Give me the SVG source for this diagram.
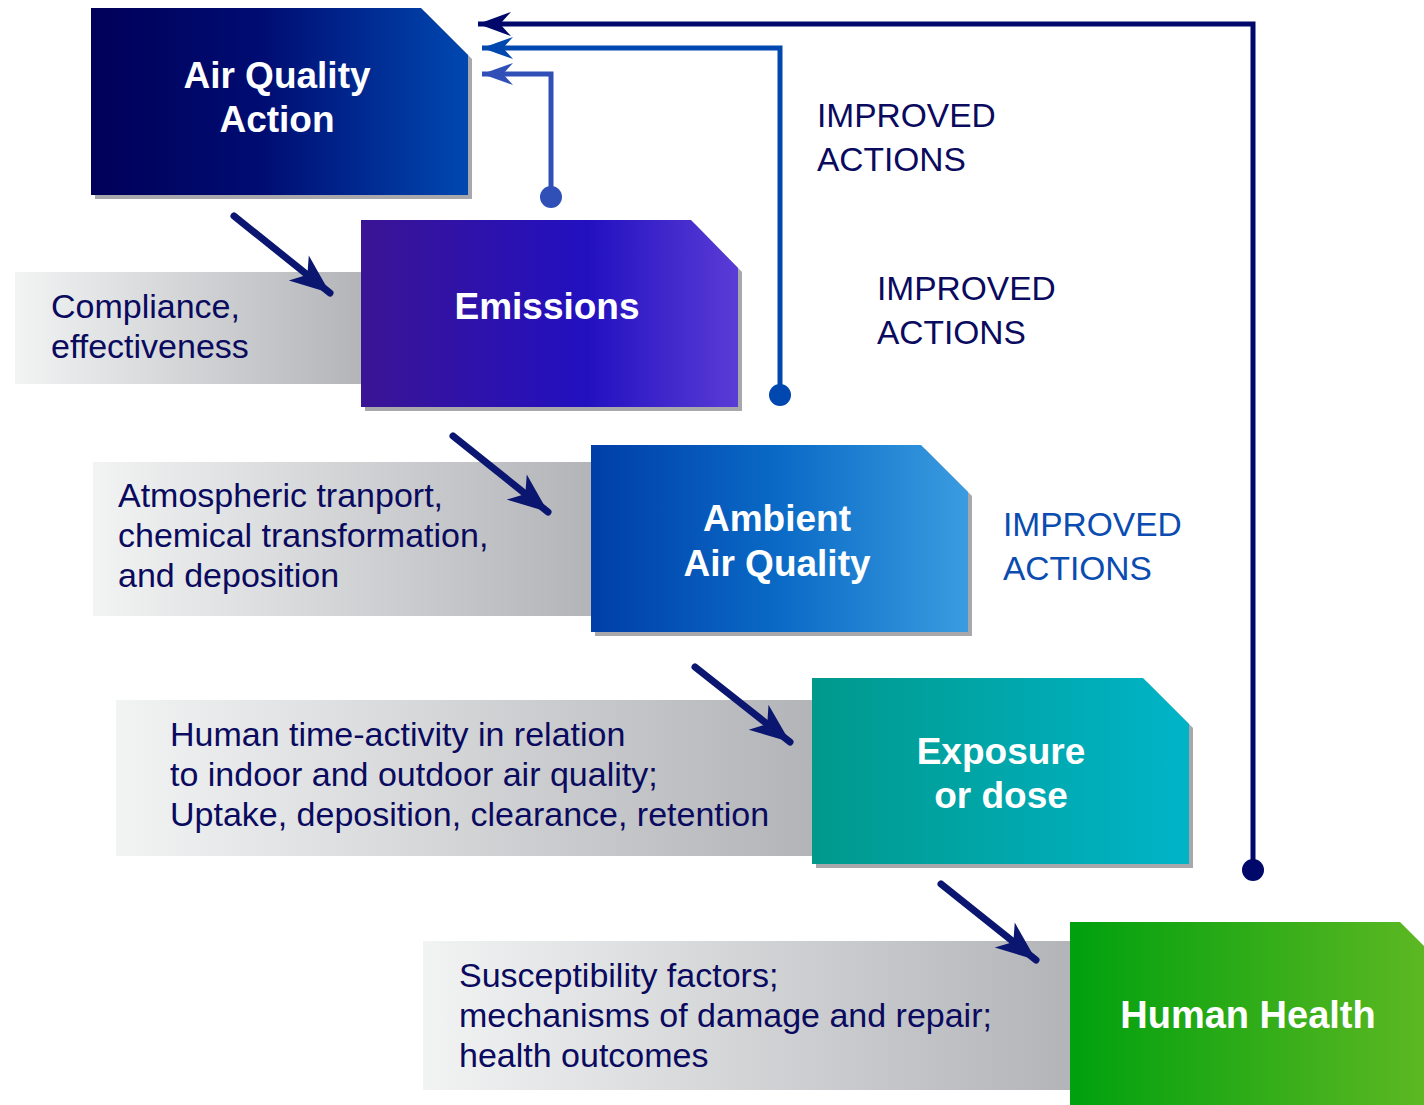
<svg xmlns="http://www.w3.org/2000/svg" width="1424" height="1105" viewBox="0 0 1424 1105">
<style>
.box-t{font-family:"Liberation Sans",Arial,sans-serif;font-weight:bold;font-size:37px;fill:#ffffff;text-anchor:middle}
.band-t{font-family:"Liberation Sans",Arial,sans-serif;font-size:34px;fill:#0a0a5e}
.imp{font-family:"Liberation Sans",Arial,sans-serif;font-size:33.5px;fill:#0a0a5e}
.shadow{fill:#a8a8ac}
.diag{stroke:#0a1670;stroke-width:7;fill:none;stroke-linecap:round}
</style>
<defs>
<linearGradient id="gBand" x1="0" y1="0" x2="1" y2="0">
<stop offset="0" stop-color="#f2f3f3"/>
<stop offset="1" stop-color="#b2b4b8"/>
</linearGradient>
<linearGradient id="gAQA" x1="0" y1="0" x2="1" y2="0">
<stop offset="0" stop-color="#000058"/>
<stop offset="0.45" stop-color="#000c72"/>
<stop offset="1" stop-color="#0048b0"/>
</linearGradient>
<linearGradient id="gEm" x1="0" y1="0" x2="1" y2="0">
<stop offset="0" stop-color="#3a1494"/>
<stop offset="0.6" stop-color="#2210c0"/>
<stop offset="1" stop-color="#5a3cd6"/>
</linearGradient>
<linearGradient id="gAmb" x1="0" y1="0" x2="1" y2="0">
<stop offset="0" stop-color="#003ea8"/>
<stop offset="0.5" stop-color="#0a6ac6"/>
<stop offset="1" stop-color="#3a9ce0"/>
</linearGradient>
<linearGradient id="gExp" x1="0" y1="0" x2="1" y2="0">
<stop offset="0" stop-color="#00998c"/>
<stop offset="1" stop-color="#00b4c8"/>
</linearGradient>
<linearGradient id="gHH" x1="0" y1="0" x2="1" y2="0">
<stop offset="0" stop-color="#00a00e"/>
<stop offset="1" stop-color="#5cb822"/>
</linearGradient>
<marker id="hNavy" markerUnits="userSpaceOnUse" markerWidth="50" markerHeight="40" viewBox="-45 -20 50 40" refX="0" refY="0" orient="auto">
<path d="M0,0 L-40,-16 L-29,0 L-40,16 Z" fill="#0a1670"/>
</marker>
<marker id="hTop" markerUnits="userSpaceOnUse" markerWidth="50" markerHeight="40" viewBox="-40 -20 50 40" refX="0" refY="0" orient="auto">
<path d="M0,0 L-33,-12 L-22,0 L-33,12 Z" fill="#00086a"/>
</marker>
<marker id="hMid" markerUnits="userSpaceOnUse" markerWidth="50" markerHeight="40" viewBox="-40 -20 50 40" refX="0" refY="0" orient="auto">
<path d="M0,0 L-31,-11 L-21,0 L-31,11 Z" fill="#0048b0"/>
</marker>
<marker id="hLow" markerUnits="userSpaceOnUse" markerWidth="50" markerHeight="40" viewBox="-40 -20 50 40" refX="0" refY="0" orient="auto">
<path d="M0,0 L-31,-11 L-21,0 L-31,11 Z" fill="#3050b8"/>
</marker>
</defs>
<rect width="1424" height="1105" fill="#ffffff"/>

<g id="band-compliance">
<rect x="15" y="272" width="350" height="112" fill="url(#gBand)"/>
<text class="band-t" x="51" y="318">Compliance,</text>
<text class="band-t" x="51" y="358">effectiveness</text>
</g>
<g id="band-atmospheric">
<rect x="93" y="462" width="502" height="154" fill="url(#gBand)"/>
<text class="band-t" x="118" y="507">Atmospheric tranport,</text>
<text class="band-t" x="118" y="547">chemical transformation,</text>
<text class="band-t" x="118" y="587">and deposition</text>
</g>
<g id="band-human-activity">
<rect x="116" y="700" width="700" height="156" fill="url(#gBand)"/>
<text class="band-t" x="170" y="746">Human time-activity in relation</text>
<text class="band-t" x="170" y="786">to indoor and outdoor air quality;</text>
<text class="band-t" x="170" y="826">Uptake, deposition, clearance, retention</text>
</g>
<g id="band-susceptibility">
<rect x="423" y="941" width="652" height="149" fill="url(#gBand)"/>
<text class="band-t" x="459" y="987">Susceptibility factors;</text>
<text class="band-t" x="459" y="1027">mechanisms of damage and repair;</text>
<text class="band-t" x="459" y="1067">health outcomes</text>
</g>

<g id="node-air-quality-action">
<path class="shadow" d="M95,12 H425 L472,59 V199 H95 Z"/>
<path d="M91,8 H421 L468,55 V195 H91 Z" fill="url(#gAQA)"/>
<text class="box-t" x="277" y="88">Air Quality</text>
<text class="box-t" x="277" y="132">Action</text>
</g>
<g id="node-emissions">
<path class="shadow" d="M365,224 H695 L742,272 V411 H365 Z"/>
<path d="M361,220 H691 L738,268 V407 H361 Z" fill="url(#gEm)"/>
<text class="box-t" x="547" y="319">Emissions</text>
</g>
<g id="node-ambient">
<path class="shadow" d="M595,449 H925 L972,496 V636 H595 Z"/>
<path d="M591,445 H921 L968,492 V632 H591 Z" fill="url(#gAmb)"/>
<text class="box-t" x="777" y="531">Ambient</text>
<text class="box-t" x="777" y="576">Air Quality</text>
</g>
<g id="node-exposure">
<path class="shadow" d="M816,682 H1147 L1193,728 V868 H816 Z"/>
<path d="M812,678 H1143 L1189,724 V864 H812 Z" fill="url(#gExp)"/>
<text class="box-t" x="1001" y="764">Exposure</text>
<text class="box-t" x="1001" y="808">or dose</text>
</g>
<g id="node-human-health">
<path d="M1070,922 H1400 L1424,946 V1105 H1070 Z" fill="url(#gHH)"/>
<text class="box-t" x="1248" y="1028" style="font-size:38px">Human Health</text>
</g>

<g id="labels">
<text class="imp" x="817" y="127">IMPROVED</text>
<text class="imp" x="817" y="171">ACTIONS</text>
<text class="imp" x="877" y="300">IMPROVED</text>
<text class="imp" x="877" y="344">ACTIONS</text>
<text class="imp" x="1003" y="536" style="fill:#0a4cb0">IMPROVED</text>
<text class="imp" x="1003" y="580" style="fill:#0a4cb0">ACTIONS</text>
</g>

<g id="connectors">
<line class="diag" x1="234" y1="216" x2="330" y2="293" marker-end="url(#hNavy)"/>
<line class="diag" x1="453" y1="436" x2="548" y2="512" marker-end="url(#hNavy)"/>
<line class="diag" x1="695" y1="667" x2="790" y2="742" marker-end="url(#hNavy)"/>
<line class="diag" x1="941" y1="884" x2="1036" y2="960" marker-end="url(#hNavy)"/>

<path d="M1253,870 V24 H478" fill="none" stroke="#00086a" stroke-width="5" marker-end="url(#hTop)"/>
<circle cx="1253" cy="870" r="11" fill="#00086a"/>
<path d="M780,395 V48 H482" fill="none" stroke="#0048b0" stroke-width="5" marker-end="url(#hMid)"/>
<circle cx="780" cy="395" r="11" fill="#0048b0"/>
<path d="M551,197 V74 H482" fill="none" stroke="#3050b8" stroke-width="5" marker-end="url(#hLow)"/>
<circle cx="551" cy="197" r="11" fill="#3050b8"/>
</g>
</svg>
